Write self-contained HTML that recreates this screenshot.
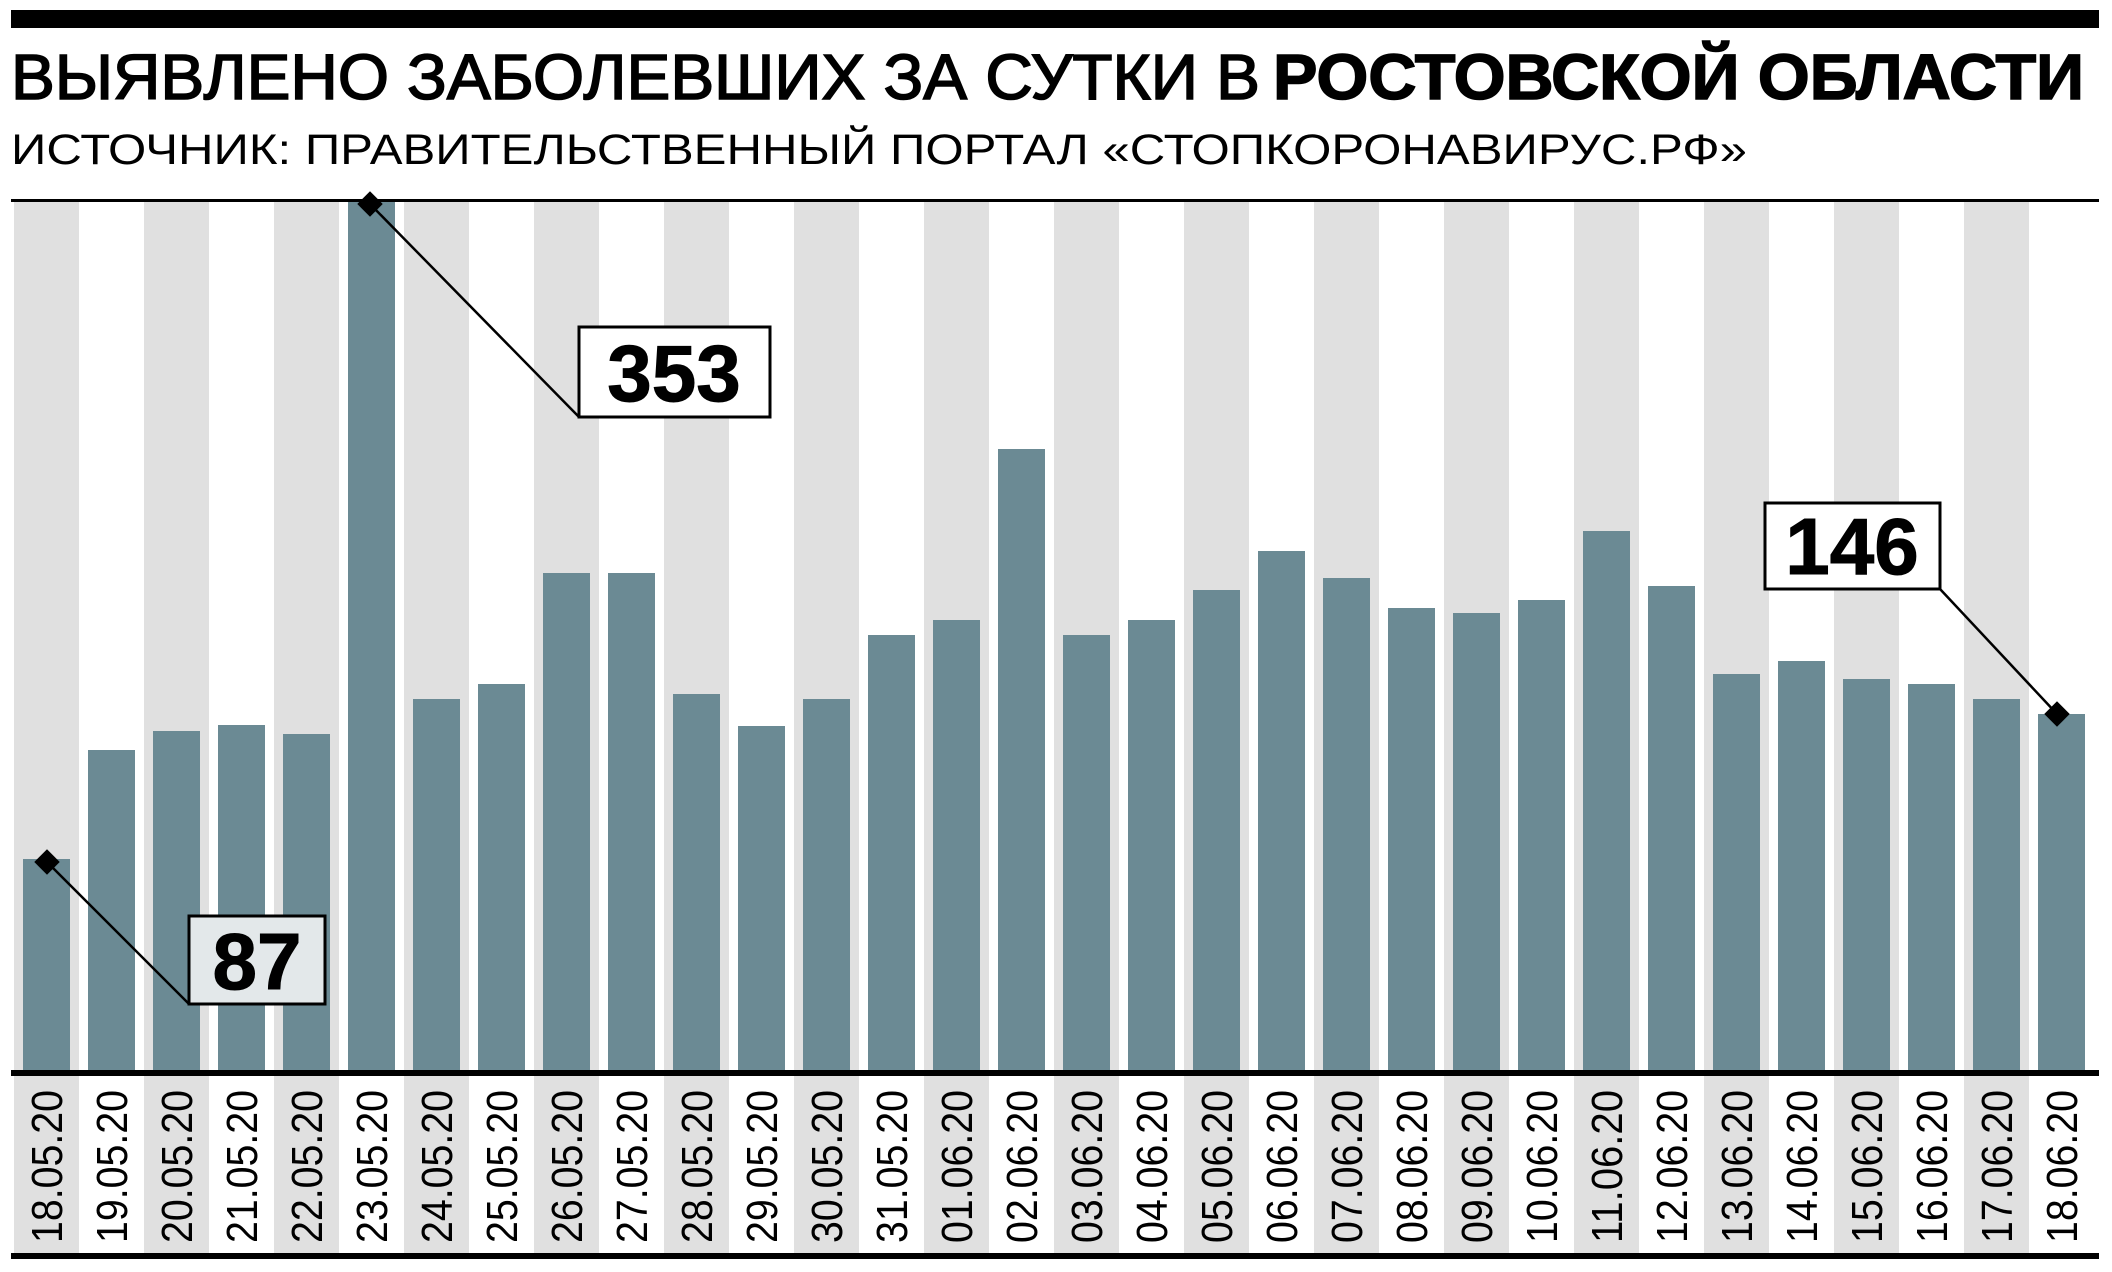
<!DOCTYPE html>
<html><head><meta charset="utf-8"><style>html,body{margin:0;padding:0;background:#fff}svg{display:block}</style></head>
<body>
<svg width="2112" height="1272" viewBox="0 0 2112 1272" xmlns="http://www.w3.org/2000/svg" font-family="Liberation Sans, sans-serif">
<rect x="11" y="10" width="2088" height="18" fill="#000"/>
<text x="11" y="99" font-size="64" textLength="1249" lengthAdjust="spacingAndGlyphs" fill="#000" stroke="#000" stroke-width="1.6">ВЫЯВЛЕНО ЗАБОЛЕВШИХ ЗА СУТКИ В</text>
<text x="1273" y="99" font-size="64" font-weight="bold" textLength="811" lengthAdjust="spacingAndGlyphs" fill="#000" stroke="#000" stroke-width="1.5">РОСТОВСКОЙ ОБЛАСТИ</text>
<text x="11" y="164" font-size="43" textLength="1736" lengthAdjust="spacingAndGlyphs" fill="#000">ИСТОЧНИК: ПРАВИТЕЛЬСТВЕННЫЙ ПОРТАЛ «СТОПКОРОНАВИРУС.РФ»</text>
<g fill="#e0e0e0">
<rect x="14" y="201" width="65" height="1052"/><rect x="144" y="201" width="65" height="1052"/><rect x="274" y="201" width="65" height="1052"/><rect x="404" y="201" width="65" height="1052"/><rect x="534" y="201" width="65" height="1052"/><rect x="664" y="201" width="65" height="1052"/><rect x="794" y="201" width="65" height="1052"/><rect x="924" y="201" width="65" height="1052"/><rect x="1054" y="201" width="65" height="1052"/><rect x="1184" y="201" width="65" height="1052"/><rect x="1314" y="201" width="65" height="1052"/><rect x="1444" y="201" width="65" height="1052"/><rect x="1574" y="201" width="65" height="1052"/><rect x="1704" y="201" width="65" height="1052"/><rect x="1834" y="201" width="65" height="1052"/><rect x="1964" y="201" width="65" height="1052"/>
</g>
<g fill="#6b8a94">
<rect x="23" y="859" width="47" height="211"/>
<rect x="88" y="750" width="47" height="320"/>
<rect x="153" y="731" width="47" height="339"/>
<rect x="218" y="725" width="47" height="345"/>
<rect x="283" y="734" width="47" height="336"/>
<rect x="348" y="201" width="47" height="869"/>
<rect x="413" y="699" width="47" height="371"/>
<rect x="478" y="684" width="47" height="386"/>
<rect x="543" y="573" width="47" height="497"/>
<rect x="608" y="573" width="47" height="497"/>
<rect x="673" y="694" width="47" height="376"/>
<rect x="738" y="726" width="47" height="344"/>
<rect x="803" y="699" width="47" height="371"/>
<rect x="868" y="635" width="47" height="435"/>
<rect x="933" y="620" width="47" height="450"/>
<rect x="998" y="449" width="47" height="621"/>
<rect x="1063" y="635" width="47" height="435"/>
<rect x="1128" y="620" width="47" height="450"/>
<rect x="1193" y="590" width="47" height="480"/>
<rect x="1258" y="551" width="47" height="519"/>
<rect x="1323" y="578" width="47" height="492"/>
<rect x="1388" y="608" width="47" height="462"/>
<rect x="1453" y="613" width="47" height="457"/>
<rect x="1518" y="600" width="47" height="470"/>
<rect x="1583" y="531" width="47" height="539"/>
<rect x="1648" y="586" width="47" height="484"/>
<rect x="1713" y="674" width="47" height="396"/>
<rect x="1778" y="661" width="47" height="409"/>
<rect x="1843" y="679" width="47" height="391"/>
<rect x="1908" y="684" width="47" height="386"/>
<rect x="1973" y="699" width="47" height="371"/>
<rect x="2038" y="714" width="47" height="356"/>
</g>
<rect x="11" y="199" width="2088" height="3" fill="#000"/>
<rect x="11" y="1070" width="2088" height="6" fill="#000"/>
<rect x="11" y="1253" width="2088" height="6" fill="#000"/>
<g font-size="44" fill="#000">
<text transform="translate(62,1243) rotate(-90)" textLength="153" lengthAdjust="spacingAndGlyphs">18.05.20</text>
<text transform="translate(127,1243) rotate(-90)" textLength="153" lengthAdjust="spacingAndGlyphs">19.05.20</text>
<text transform="translate(192,1243) rotate(-90)" textLength="153" lengthAdjust="spacingAndGlyphs">20.05.20</text>
<text transform="translate(257,1243) rotate(-90)" textLength="153" lengthAdjust="spacingAndGlyphs">21.05.20</text>
<text transform="translate(322,1243) rotate(-90)" textLength="153" lengthAdjust="spacingAndGlyphs">22.05.20</text>
<text transform="translate(387,1243) rotate(-90)" textLength="153" lengthAdjust="spacingAndGlyphs">23.05.20</text>
<text transform="translate(452,1243) rotate(-90)" textLength="153" lengthAdjust="spacingAndGlyphs">24.05.20</text>
<text transform="translate(517,1243) rotate(-90)" textLength="153" lengthAdjust="spacingAndGlyphs">25.05.20</text>
<text transform="translate(582,1243) rotate(-90)" textLength="153" lengthAdjust="spacingAndGlyphs">26.05.20</text>
<text transform="translate(647,1243) rotate(-90)" textLength="153" lengthAdjust="spacingAndGlyphs">27.05.20</text>
<text transform="translate(712,1243) rotate(-90)" textLength="153" lengthAdjust="spacingAndGlyphs">28.05.20</text>
<text transform="translate(777,1243) rotate(-90)" textLength="153" lengthAdjust="spacingAndGlyphs">29.05.20</text>
<text transform="translate(842,1243) rotate(-90)" textLength="153" lengthAdjust="spacingAndGlyphs">30.05.20</text>
<text transform="translate(907,1243) rotate(-90)" textLength="153" lengthAdjust="spacingAndGlyphs">31.05.20</text>
<text transform="translate(972,1243) rotate(-90)" textLength="153" lengthAdjust="spacingAndGlyphs">01.06.20</text>
<text transform="translate(1037,1243) rotate(-90)" textLength="153" lengthAdjust="spacingAndGlyphs">02.06.20</text>
<text transform="translate(1102,1243) rotate(-90)" textLength="153" lengthAdjust="spacingAndGlyphs">03.06.20</text>
<text transform="translate(1167,1243) rotate(-90)" textLength="153" lengthAdjust="spacingAndGlyphs">04.06.20</text>
<text transform="translate(1232,1243) rotate(-90)" textLength="153" lengthAdjust="spacingAndGlyphs">05.06.20</text>
<text transform="translate(1297,1243) rotate(-90)" textLength="153" lengthAdjust="spacingAndGlyphs">06.06.20</text>
<text transform="translate(1362,1243) rotate(-90)" textLength="153" lengthAdjust="spacingAndGlyphs">07.06.20</text>
<text transform="translate(1427,1243) rotate(-90)" textLength="153" lengthAdjust="spacingAndGlyphs">08.06.20</text>
<text transform="translate(1492,1243) rotate(-90)" textLength="153" lengthAdjust="spacingAndGlyphs">09.06.20</text>
<text transform="translate(1557,1243) rotate(-90)" textLength="153" lengthAdjust="spacingAndGlyphs">10.06.20</text>
<text transform="translate(1622,1243) rotate(-90)" textLength="153" lengthAdjust="spacingAndGlyphs">11.06.20</text>
<text transform="translate(1687,1243) rotate(-90)" textLength="153" lengthAdjust="spacingAndGlyphs">12.06.20</text>
<text transform="translate(1752,1243) rotate(-90)" textLength="153" lengthAdjust="spacingAndGlyphs">13.06.20</text>
<text transform="translate(1817,1243) rotate(-90)" textLength="153" lengthAdjust="spacingAndGlyphs">14.06.20</text>
<text transform="translate(1882,1243) rotate(-90)" textLength="153" lengthAdjust="spacingAndGlyphs">15.06.20</text>
<text transform="translate(1947,1243) rotate(-90)" textLength="153" lengthAdjust="spacingAndGlyphs">16.06.20</text>
<text transform="translate(2012,1243) rotate(-90)" textLength="153" lengthAdjust="spacingAndGlyphs">17.06.20</text>
<text transform="translate(2077,1243) rotate(-90)" textLength="153" lengthAdjust="spacingAndGlyphs">18.06.20</text>
</g>
<g stroke="#000" stroke-width="2.5" fill="none">
<line x1="47" y1="862" x2="189" y2="1004"/>
<line x1="370" y1="204" x2="579" y2="417"/>
<line x1="2057" y1="714" x2="1940" y2="589"/>
</g>
<g fill="#000">
<rect x="38" y="853" width="18" height="18" transform="rotate(45 47 862)"/>
<rect x="361" y="195" width="18" height="18" transform="rotate(45 370 204)"/>
<rect x="2048" y="705" width="18" height="18" transform="rotate(45 2057 714)"/>
</g>
<g stroke="#000" stroke-width="3">
<rect x="189" y="916" width="136" height="88" fill="#e3e8ea"/>
<rect x="579" y="327" width="191" height="90" fill="#fff"/>
<rect x="1765" y="503" width="175" height="86" fill="#fff"/>
</g>
<g font-size="80" font-weight="bold" fill="#000" text-anchor="middle" stroke="#000" stroke-width="1">
<text x="257" y="989">87</text>
<text x="674" y="401">353</text>
<text x="1852" y="574">146</text>
</g>
</svg>
</body></html>
